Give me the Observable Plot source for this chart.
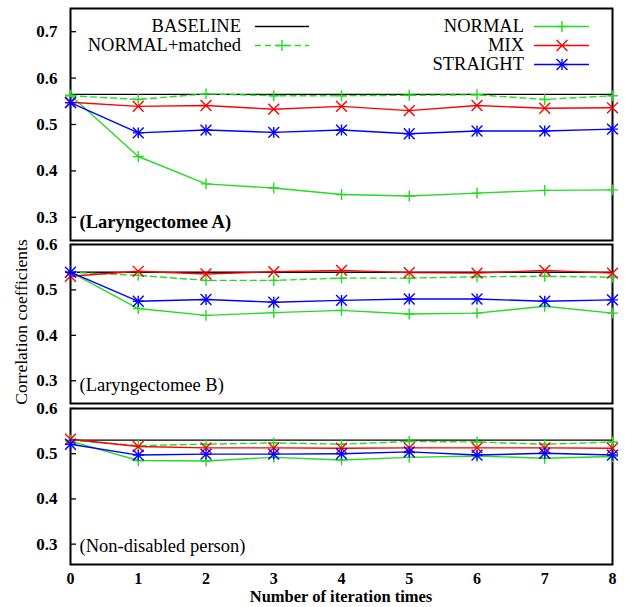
<!DOCTYPE html>
<html>
<head>
<meta charset="utf-8">
<script src="https://cdn.jsdelivr.net/npm/d3@7"></script>
<script src="https://cdn.jsdelivr.net/npm/@observablehq/plot@0.6"></script>
<style>
  body { margin: 0; background: #fff; }
  #chart { position: relative; width: 625px; height: 607px; font-family: "Liberation Serif", Tinos, "DejaVu Serif", serif; }
  #chart svg { position: absolute; left: 0; overflow: visible; }
</style>
</head>
<body>
<div id="chart"></div>
<script>
// ---------- data ----------
const iterations = [0, 1, 2, 3, 4, 5, 6, 7, 8];
const seriesNames = ["BASELINE", "NORMAL+matched", "NORMAL", "MIX", "STRAIGHT"];
const panelTitles = ["(Laryngectomee A)", "(Laryngectomee B)", "(Non-disabled person)"];
const yTicksA = [0.3, 0.4, 0.5, 0.6, 0.7];
const yTicksBN = [0.3, 0.4, 0.5, 0.6];
const xTicks = [0, 1, 2, 3, 4, 5, 6, 7, 8];
const yLabel = "Correlation coefficients";
const xLabel = "Number of iteration times";

// Panel A: Laryngectomee A
const aBaseline = [0.565, 0.565, 0.565, 0.565, 0.565, 0.565, 0.565, 0.565, 0.565];
const aMatched  = [0.562, 0.554, 0.566, 0.562, 0.562, 0.563, 0.564, 0.554, 0.562];
const aNormal   = [0.563, 0.431, 0.372, 0.363, 0.349, 0.346, 0.352, 0.358, 0.359];
const aMix      = [0.548, 0.539, 0.541, 0.533, 0.539, 0.530, 0.541, 0.535, 0.536];
const aStraight = [0.547, 0.482, 0.488, 0.483, 0.488, 0.480, 0.486, 0.486, 0.490];

// Panel B: Laryngectomee B
const bBaseline = [0.539, 0.539, 0.539, 0.539, 0.539, 0.539, 0.539, 0.539, 0.539];
const bMatched  = [0.539, 0.532, 0.521, 0.521, 0.526, 0.526, 0.529, 0.530, 0.528];
const bNormal   = [0.539, 0.459, 0.444, 0.450, 0.455, 0.447, 0.449, 0.464, 0.449];
const bMix      = [0.530, 0.541, 0.535, 0.540, 0.543, 0.538, 0.537, 0.543, 0.537];
const bStraight = [0.539, 0.475, 0.479, 0.473, 0.477, 0.480, 0.480, 0.475, 0.478];

// Panel N: Non-disabled person
const nBaseline = [0.530, 0.530, 0.530, 0.530, 0.530, 0.530, 0.530, 0.530, 0.530];
const nMatched  = [0.530, 0.518, 0.521, 0.524, 0.521, 0.527, 0.526, 0.521, 0.526];
const nNormal   = [0.528, 0.485, 0.484, 0.492, 0.486, 0.492, 0.495, 0.490, 0.494];
const nMix      = [0.532, 0.516, 0.513, 0.513, 0.512, 0.513, 0.513, 0.513, 0.512];
const nStraight = [0.521, 0.497, 0.499, 0.499, 0.500, 0.504, 0.497, 0.501, 0.497];

// ---------- styles ----------
const GREEN = "#22dd22", RED = "#ff0000", BLUE = "#0000ff", BLACK = "#000000";
const style = {
  "BASELINE":       {stroke: BLACK, dash: null,  symbols: []},
  "NORMAL+matched": {stroke: GREEN, dash: "6,4", symbols: [["plus", 3.6]]},
  "NORMAL":         {stroke: GREEN, dash: null,  symbols: [["plus", 3.6]]},
  "MIX":            {stroke: RED,   dash: null,  symbols: [["times", 5]]},
  "STRAIGHT":       {stroke: BLUE,  dash: null,  symbols: [["plus", 3.6], ["times", 5]]}
};
const FONT = "'Liberation Serif', Tinos, 'DejaVu Serif', serif";

function toRows(arrs) {
  return seriesNames.flatMap((s, k) => iterations.map((it, i) => ({series: s, iter: it, value: arrs[k][i]})));
}

function panel({rows, domain, ticks, title, height, marginTop, marginBottom, showX, top}) {
  const marks = [Plot.frame({stroke: "black", strokeWidth: 2})];
  marks.push(Plot.axisY({ticks, tickSize: -6, tickPadding: 19, tickFormat: d => d.toFixed(1),
    fontSize: 17, fontWeight: "bold", fontFamily: FONT, strokeWidth: 1.3, label: null}));
  if (showX) {
    marks.push(Plot.axisX({ticks: xTicks, tickSize: 0, tickPadding: 8, fontSize: 16, fontWeight: "bold",
      fontFamily: FONT, label: null}));
  }
  for (const s of seriesNames) {
    const st = style[s];
    const data = rows.filter(d => d.series === s);
    marks.push(Plot.line(data, {x: "iter", y: "value", stroke: st.stroke, strokeWidth: 1.4,
      strokeDasharray: st.dash, curve: "linear"}));
    for (const [sym, r] of st.symbols) {
      marks.push(Plot.dot(data, {x: "iter", y: "value", symbol: sym, r, stroke: st.stroke, fill: "none", strokeWidth: 1.4}));
    }
  }
  marks.push(Plot.text([title], {text: d => d, frameAnchor: "bottom-left", textAnchor: "start", lineAnchor: "middle",
    dx: 9, dy: -18, fontSize: 18.5, fontFamily: FONT, fontWeight: title.includes("A)") ? "bold" : "normal", fill: "black"}));
  const svg = Plot.plot({
    width: 625, height, marginLeft: 70, marginRight: 13, marginTop, marginBottom,
    x: {domain: [0, 8], axis: showX ? undefined : null},
    y: {domain},
    style: {fontFamily: FONT, fontSize: "17px", background: "transparent", color: "black", overflow: "visible"},
    marks
  });
  svg.style.top = top + "px";
  return svg;
}

const chart = document.getElementById("chart");
const p1 = panel({rows: toRows([aBaseline, aMatched, aNormal, aMix, aStraight]), domain: [0.25, 0.75], ticks: yTicksA,
  title: panelTitles[0], height: 244, marginTop: 8, marginBottom: 4, showX: false, top: 0});
const p2 = panel({rows: toRows([bBaseline, bMatched, bNormal, bMix, bStraight]), domain: [0.25, 0.6], ticks: yTicksBN,
  title: panelTitles[1], height: 167, marginTop: 4, marginBottom: 4, showX: false, top: 240});
const p3 = panel({rows: toRows([nBaseline, nMatched, nNormal, nMix, nStraight]), domain: [0.255, 0.6], ticks: yTicksBN,
  title: panelTitles[2], height: 204, marginTop: 5, marginBottom: 43, showX: true, top: 403});
chart.append(p1, p2, p3);

// ---------- legend (inside top panel) ----------
const legendLayout = [
  {name: "BASELINE",       textEnd: 241, x1: 255, x2: 309, mx: 282, y: 26.5},
  {name: "NORMAL+matched", textEnd: 241, x1: 255, x2: 309, mx: 282, y: 45.5},
  {name: "NORMAL",         textEnd: 524, x1: 534, x2: 589, mx: 562, y: 26.5},
  {name: "MIX",            textEnd: 524, x1: 534, x2: 589, mx: 562, y: 45.5},
  {name: "STRAIGHT",       textEnd: 524, x1: 534, x2: 589, mx: 562, y: 64.5}
];
const lg = d3.select(p1).append("g").attr("font-family", FONT).attr("font-size", 18.5);
for (const it of legendLayout) {
  const st = style[it.name];
  lg.append("text").attr("x", it.textEnd).attr("y", it.y).attr("dy", "0.32em")
    .attr("text-anchor", "end").attr("fill", "black").text(it.name);
  lg.append("line").attr("x1", it.x1).attr("x2", it.x2).attr("y1", it.y).attr("y2", it.y)
    .attr("stroke", st.stroke).attr("stroke-width", 1.4).attr("stroke-dasharray", st.dash);
  for (const [sym, r] of st.symbols) {
    const type = sym === "plus" ? d3.symbolPlus : d3.symbolTimes;
    lg.append("path").attr("d", d3.symbol(type, Math.PI * r * r)())
      .attr("transform", `translate(${it.mx},${it.y})`)
      .attr("stroke", st.stroke).attr("stroke-width", 1.4).attr("fill", "none");
  }
}

// ---------- axis titles ----------
const ov = d3.select(chart).append("svg").attr("width", 625).attr("height", 607)
  .style("top", "0px").style("pointer-events", "none").attr("font-family", FONT);
ov.append("text").attr("transform", "translate(27,322) rotate(-90)").attr("text-anchor", "middle")
  .attr("font-size", 17.5).attr("fill", "black").text(yLabel);
ov.append("text").attr("x", 341).attr("y", 602).attr("text-anchor", "middle")
  .attr("font-size", 16.5).attr("font-weight", "bold").attr("fill", "black").text(xLabel);
</script>
</body>
</html>
